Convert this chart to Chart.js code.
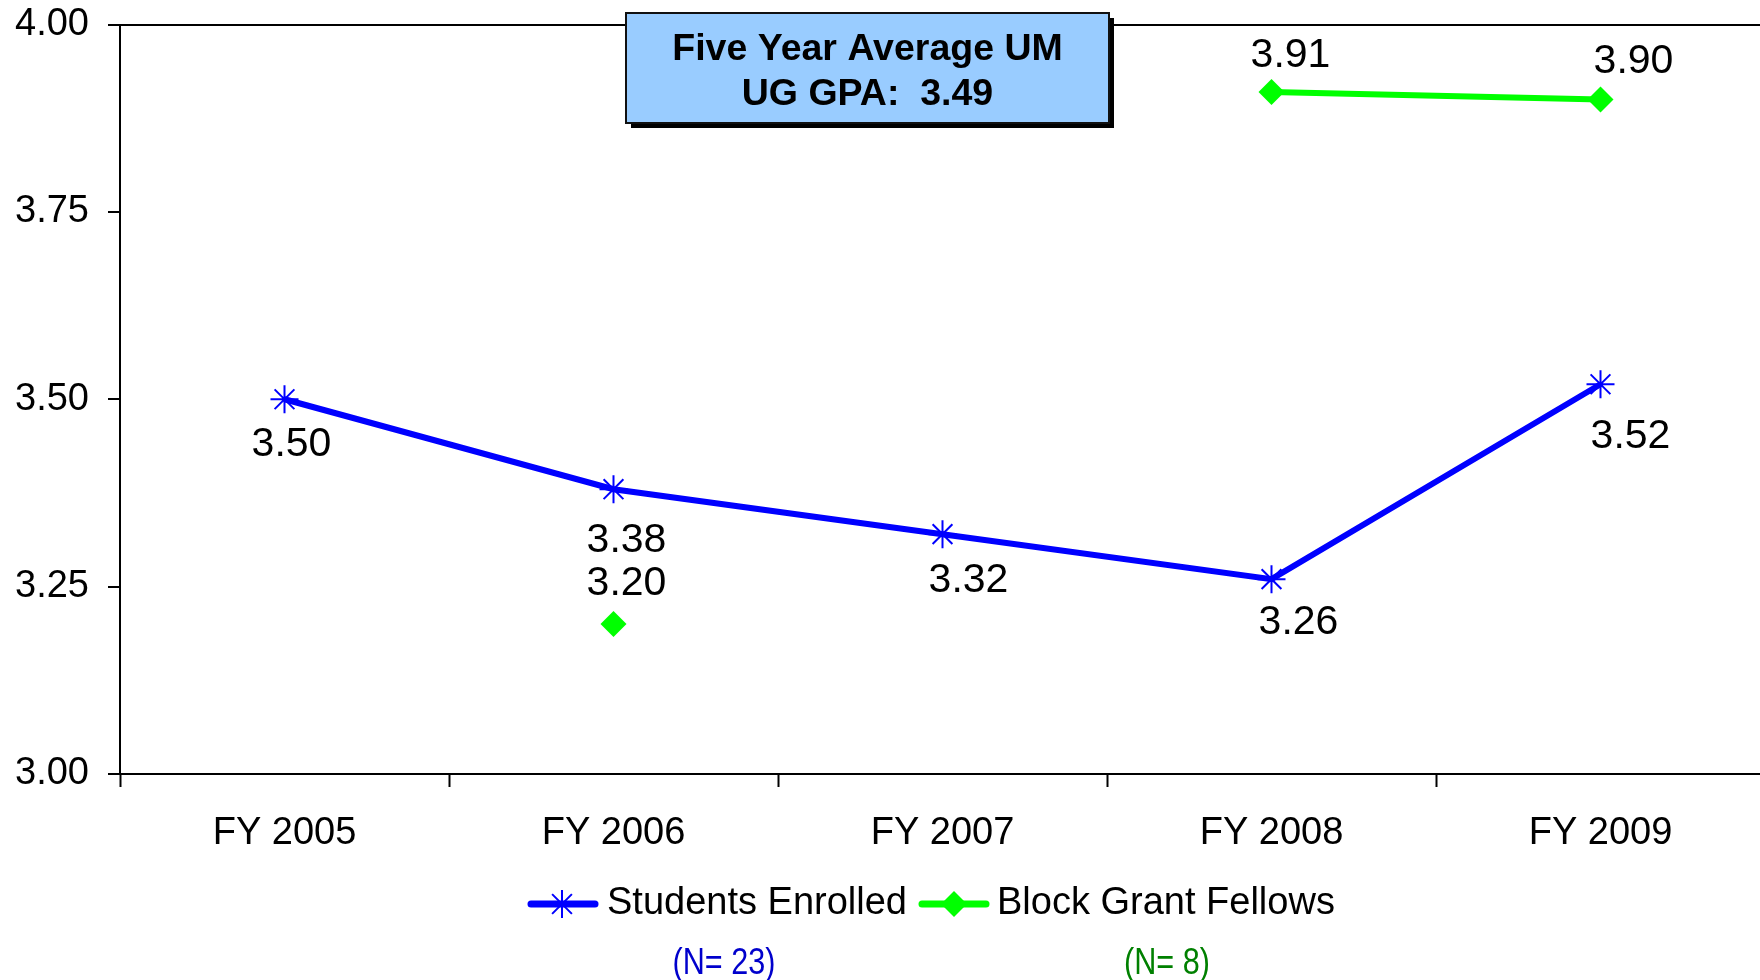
<!DOCTYPE html>
<html><head><meta charset="utf-8">
<script src="https://cdn.jsdelivr.net/npm/chart.js@4.4.1/dist/chart.umd.min.js"></script>
<style>
html,body{margin:0;padding:0;overflow:hidden;background:#fff}
#wrap{position:absolute;left:0;top:0;width:1781px;height:980px}
</style>
</head><body>
<div id="wrap"><canvas id="c" width="1781" height="980"></canvas></div>
<script>
const categories = ['FY 2005', 'FY 2006', 'FY 2007', 'FY 2008', 'FY 2009'];
const studentsEnrolled = [3.50, 3.38, 3.32, 3.26, 3.52];
const blockGrantFellows = [null, 3.20, null, 3.91, 3.90];
const yTicks = [3.00, 3.25, 3.50, 3.75, 4.00];
const seriesNames = ['Students Enrolled', 'Block Grant Fellows'];
const seriesCounts = ['(N= 23)', '(N= 8)'];
const averageTitle = ['Five Year Average UM', 'UG GPA:  3.49'];

// styling: label offsets from each point (dx, dy)
const enrolledLabelOffsets = [[7, 45], [13, 51], [26, 47], [27, 44], [30, 52]];
const fellowsLabelOffsets = [null, [13, -40], null, [19, -36], [33, -38]];

const FONT = "'Liberation Sans', Arial, sans-serif";
function hasFont(name) {
  const c = document.createElement('canvas').getContext('2d');
  const s = 'abcdefghijklmNWwi0123';
  c.font = '40px monospace';
  const a = c.measureText(s).width;
  c.font = '40px "' + name + '", monospace';
  return c.measureText(s).width !== a;
}
const narrowOK = hasFont('Liberation Sans Narrow');

function drawStar(ctx, x, y, r, color, w) {
  ctx.save();
  ctx.strokeStyle = color; ctx.lineWidth = w; ctx.lineCap = 'butt';
  ctx.beginPath();
  ctx.moveTo(x - r, y); ctx.lineTo(x + r, y);
  ctx.moveTo(x, y - r); ctx.lineTo(x, y + r);
  const d = r * Math.SQRT1_2;
  ctx.moveTo(x - d, y - d); ctx.lineTo(x + d, y + d);
  ctx.moveTo(x - d, y + d); ctx.lineTo(x + d, y - d);
  ctx.stroke();
  ctx.restore();
}
function drawDiamond(ctx, x, y, r, color) {
  ctx.save();
  ctx.fillStyle = color;
  ctx.beginPath();
  ctx.moveTo(x, y - r); ctx.lineTo(x + r, y); ctx.lineTo(x, y + r); ctx.lineTo(x - r, y);
  ctx.closePath(); ctx.fill();
  ctx.restore();
}
function drawNarrow(ctx, text, x, y, color) {
  ctx.save();
  ctx.fillStyle = color;
  ctx.textAlign = 'center';
  ctx.textBaseline = 'middle';
  if (narrowOK) {
    ctx.font = "38px 'Liberation Sans Narrow'";
    ctx.fillText(text, x, y);
  } else {
    ctx.font = '36px ' + FONT;
    ctx.translate(x, y);
    ctx.scale(0.85, 1);
    ctx.fillText(text, 0, 0);
  }
  ctx.restore();
}

const extras = {
  id: 'extras',
  afterDatasetsDraw(chart) {
    const ctx = chart.ctx;
    ctx.save();
    // data labels
    ctx.font = '41px ' + FONT;
    ctx.fillStyle = '#000';
    ctx.textAlign = 'center';
    ctx.textBaseline = 'middle';
    const m0 = chart.getDatasetMeta(0), m1 = chart.getDatasetMeta(1);
    studentsEnrolled.forEach((v, i) => {
      if (v == null) return;
      const p = m0.data[i], o = enrolledLabelOffsets[i];
      ctx.fillText(v.toFixed(2), p.x + o[0], p.y + o[1]);
    });
    blockGrantFellows.forEach((v, i) => {
      if (v == null) return;
      const p = m1.data[i], o = fellowsLabelOffsets[i];
      ctx.fillText(v.toFixed(2), p.x + o[0], p.y + o[1]);
    });

    // annotation box
    const bx = 626, by = 13, bw = 483, bh = 110;
    ctx.fillStyle = '#000';
    ctx.fillRect(bx + 5, by + 5, bw, bh);
    ctx.fillStyle = '#99CCFF';
    ctx.fillRect(bx, by, bw, bh);
    ctx.strokeStyle = '#111';
    ctx.lineWidth = 2;
    ctx.strokeRect(bx, by, bw, bh);
    ctx.fillStyle = '#000';
    ctx.font = 'bold 37.5px ' + FONT;
    ctx.fillText(averageTitle[0], bx + bw / 2, 50);
    ctx.fillText(averageTitle[1], bx + bw / 2, 95);

    // legend
    const ly = 904;
    ctx.lineCap = 'round';
    ctx.lineWidth = 7;
    ctx.strokeStyle = '#0000FF';
    ctx.beginPath(); ctx.moveTo(531, ly); ctx.lineTo(595, ly); ctx.stroke();
    drawStar(ctx, 562, ly, 14, '#0000FF', 2);
    ctx.strokeStyle = '#00FF00';
    ctx.beginPath(); ctx.moveTo(922, ly); ctx.lineTo(986, ly); ctx.stroke();
    drawDiamond(ctx, 954, ly, 13, '#00FF00');
    ctx.fillStyle = '#000';
    ctx.font = '38px ' + FONT;
    ctx.textAlign = 'left';
    ctx.fillText(seriesNames[0], 607, ly);
    ctx.fillText(seriesNames[1], 997, ly);

    // N counts
    drawNarrow(ctx, seriesCounts[0], 724, 964, '#0000CC');
    drawNarrow(ctx, seriesCounts[1], 1167, 964, '#008000');
    ctx.restore();
  }
};

new Chart(document.getElementById('c'), {
  type: 'line',
  data: {
    labels: categories,
    datasets: [
      {
        label: seriesNames[0],
        data: studentsEnrolled,
        borderColor: '#0000FF',
        backgroundColor: '#0000FF',
        borderWidth: 6,
        pointStyle: 'star',
        pointRadius: 14,
        pointBorderWidth: 2,
        pointBorderColor: '#0000FF',
        tension: 0
      },
      {
        label: seriesNames[1],
        data: blockGrantFellows,
        borderColor: '#00FF00',
        backgroundColor: '#00FF00',
        borderWidth: 6,
        pointStyle: 'rectRot',
        pointRadius: 13,
        pointBorderWidth: 0,
        pointBackgroundColor: '#00FF00',
        spanGaps: false,
        tension: 0
      }
    ]
  },
  options: {
    responsive: false,
    devicePixelRatio: 1,
    animation: false,
    layout: { padding: { top: 24.5, left: 0, right: 0, bottom: 0 } },
    plugins: { legend: { display: false }, tooltip: { enabled: false } },
    scales: {
      x: {
        type: 'category',
        offset: true,
        grid: { offset: true, drawOnChartArea: false, tickLength: 13, tickColor: '#000', tickWidth: 2 },
        border: { color: '#000', width: 2 },
        ticks: { color: '#000', font: { family: FONT, size: 38 }, padding: 24, maxRotation: 0 },
        afterFit(s) { s.height = 206; s.paddingLeft = 0; s.paddingRight = 0; }
      },
      y: {
        min: 3, max: 4,
        afterBuildTicks(s) { s.ticks = yTicks.map(v => ({ value: v })); },
        grid: {
          color: c => (c.tick && c.tick.value === 4 ? '#000' : 'rgba(0,0,0,0)'),
          lineWidth: 2,
          tickLength: 12,
          tickColor: '#000',
          tickWidth: 2
        },
        border: { color: '#000', width: 2 },
        ticks: { color: '#000', font: { family: FONT, size: 38 }, padding: 19, callback: v => Number(v).toFixed(2) },
        afterFit(s) { s.width = 120; s.paddingTop = 0; s.paddingBottom = 0; }
      }
    }
  },
  plugins: [extras]
});
</script>
</body></html>
